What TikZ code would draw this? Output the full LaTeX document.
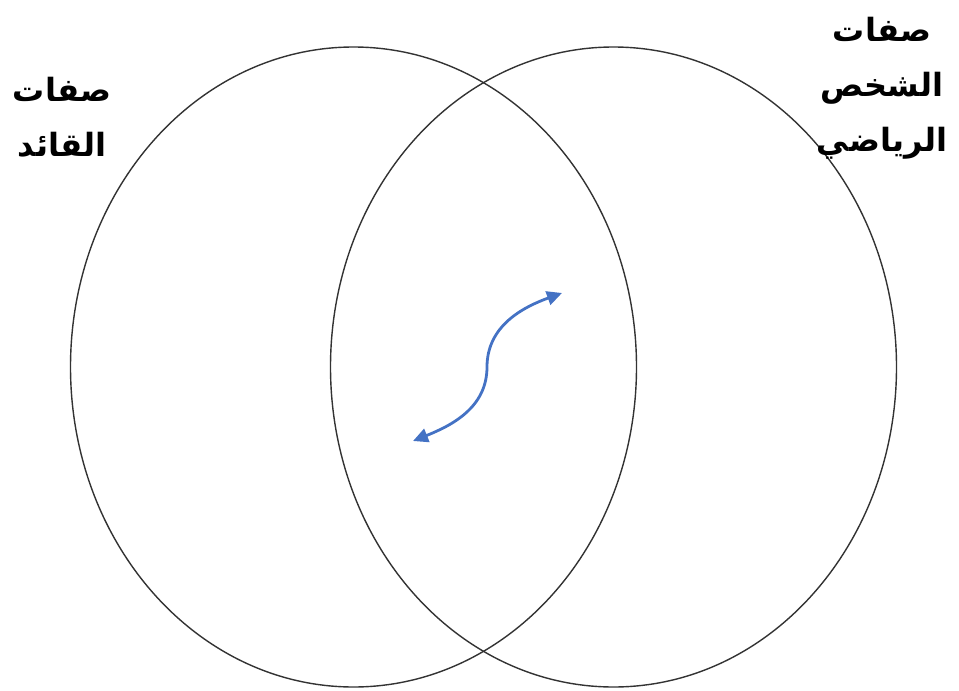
\documentclass[tikz,border=0pt]{standalone}
\usepackage{fontspec}
\usepackage{tikz}
\usetikzlibrary{
arrows.meta,
positioning,
shapes.geometric
}
\TeXXeTstate=1
\newfontfamily\arabicfont[Script=Arabic]{DejaVu Sans}
\definecolor{ArrowBlue}{HTML}{4472C4}
\definecolor{RingGray}{HTML}{333333}

\begin{document}
\begin{tikzpicture}[x=1pt, y=-1pt,
    vennring/.style={draw=RingGray, line width=1.4pt, ellipse, inner sep=0pt, minimum width=566pt, minimum height=640pt},
    traittext/.style={font=\arabicfont\bfseries\fontsize{32}{55}\selectfont, align=center, inner sep=0pt}]
        \useasboundingbox (0,0) rectangle (959,691);

        % two overlapping sets
        \node[vennring] (leader) at (353.5,367) {};
        \node[vennring] (athlete) at (613.5,367) {};

        % set titles
        \node[traittext] (leadertitle) at (62,117) {\beginR صفات\endR\\\beginR القائد\endR};
        \node[traittext] (athletetitle) at (882,88) {\beginR صفات\endR\\\beginR الشخص\endR\\\beginR الرياضي\endR};

        % link between the two sets
        \coordinate (linklow) at (413,441);
        \coordinate (linkmid) at (487,367);
        \coordinate (linkhigh) at (562,293);
        \draw[ArrowBlue, line width=2.8pt, {Triangle[length=15pt,width=14pt]}-{Triangle[length=15pt,width=14pt]}]
            (linklow) to[out=22, in=-90] (linkmid) to[out=90, in=200] (linkhigh);
    \end{tikzpicture}
\end{document}
